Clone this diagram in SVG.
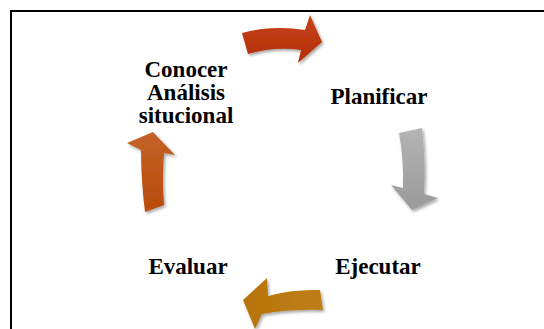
<svg xmlns="http://www.w3.org/2000/svg" width="544" height="329" viewBox="0 0 544 329">
  <style>
    .lbl { font-weight: bold; font-size: 23px; fill: #000; text-anchor: middle; }
    .arrow { filter: url(#soft); }
  </style>
  <defs>
    <filter id="soft" x="-30%" y="-30%" width="160%" height="160%">
      <feGaussianBlur in="SourceGraphic" stdDeviation="0.6" result="b"/>
      <feDropShadow in="b" dx="1.5" dy="2" stdDeviation="1.5" flood-color="#000" flood-opacity="0.35"/>
    </filter>
    <linearGradient id="gRed" x1="0" y1="0" x2="0" y2="1">
      <stop offset="0" stop-color="#C8421A"/>
      <stop offset="1" stop-color="#B22E08"/>
    </linearGradient>
    <linearGradient id="gGray" x1="0" y1="0" x2="0" y2="1">
      <stop offset="0" stop-color="#B4B4B4"/>
      <stop offset="1" stop-color="#9A9A9A"/>
    </linearGradient>
    <linearGradient id="gGold" x1="1" y1="0" x2="0" y2="0">
      <stop offset="0" stop-color="#BE7E16"/>
      <stop offset="1" stop-color="#B8740E"/>
    </linearGradient>
    <linearGradient id="gBrown" x1="0" y1="1" x2="0" y2="0">
      <stop offset="0" stop-color="#B94A0C"/>
      <stop offset="1" stop-color="#C46228"/>
    </linearGradient>
  </defs>

  <rect width="544" height="329" fill="#fff"/>
  <!-- frame -->
  <rect x="11" y="11" width="600" height="400" fill="none" stroke="#000" stroke-width="2"/>

  <!-- cycle arrows -->
  <g id="connectors">
    <path class="arrow" fill="url(#gRed)" d="M 242 33 Q 272 25 305 30 L 310 15 L 322 42 L 298 63 L 301 50 Q 275 46 248 54 Z"/>
    <path class="arrow" fill="url(#gGray)" d="M 399 133 Q 404 160 403 188 L 391 185 L 412 210 L 438 198 L 424 194 Q 426 160 422 128 Z"/>
    <path class="arrow" fill="url(#gGold)" d="M 320 290 Q 292 289 268 296 L 267 278 L 243 300 L 255 329 L 262 314 Q 292 309 323 310 Z"/>
    <path class="arrow" fill="url(#gBrown)" d="M 145 212 Q 141 180 141 150 L 127 143 L 153 132 L 175 155 L 164 153 Q 162 180 164 205 Z"/>
  </g>

  <g id="conocer">
    <text class="lbl" font-family="Liberation Serif" x="186" y="77">Conocer</text>
    <text class="lbl" font-family="Liberation Serif" x="186" y="100">Análisis</text>
    <text class="lbl" font-family="Liberation Serif" x="186" y="123">situcional</text>
  </g>
  <g id="planificar">
    <text class="lbl" font-family="Liberation Serif" x="379" y="104">Planificar</text>
  </g>
  <g id="ejecutar">
    <text class="lbl" font-family="Liberation Serif" x="378" y="274">Ejecutar</text>
  </g>
  <g id="evaluar">
    <text class="lbl" font-family="Liberation Serif" x="188" y="274">Evaluar</text>
  </g>
</svg>
